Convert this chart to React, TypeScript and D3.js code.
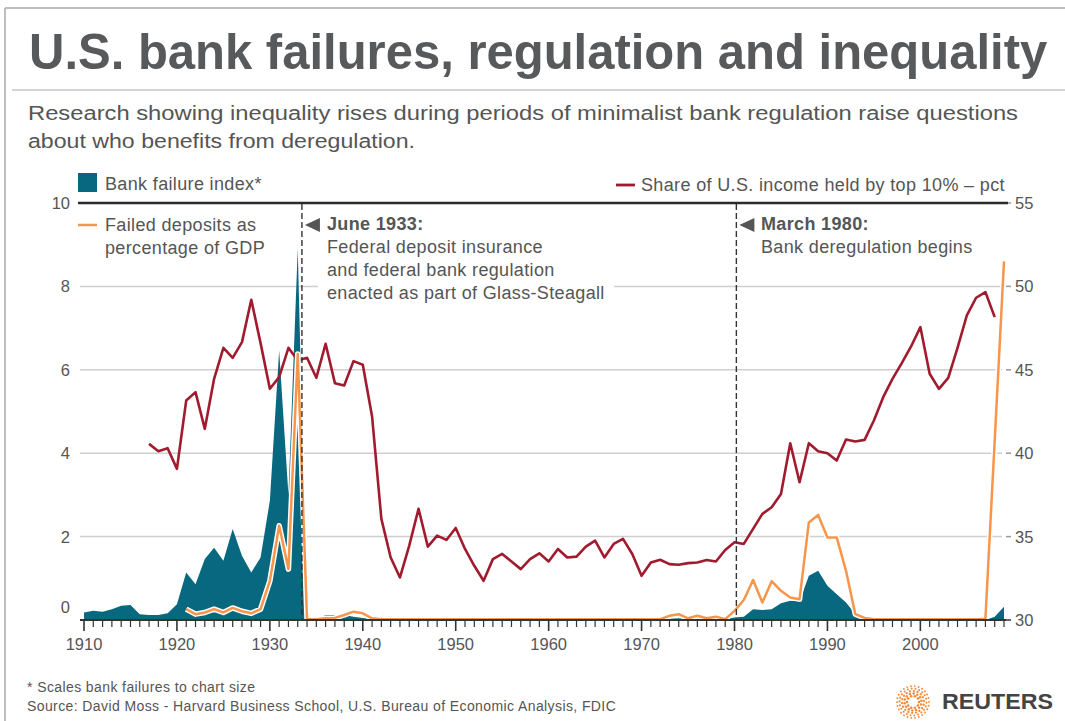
import React, { useLayoutEffect, useRef } from 'react';
import * as d3 from 'd3';

// Bank failure index (scaled to chart), one value per year from 1910
const bankFailureStart = 1910;
const bankFailure = [
  0.18, 0.22, 0.2, 0.26, 0.34, 0.36, 0.14, 0.12, 0.12, 0.16,
  0.38, 1.14, 0.86, 1.46, 1.73, 1.42, 2.18, 1.54, 1.14, 1.5,
  2.86, 6.46, 3.0, 8.9, 0, 0.02, 0.12, 0.12, 0.12, 0.08,
  0.05, 0.02, 0, 0, 0, 0, 0, 0, 0, 0,
  0, 0, 0, 0, 0, 0, 0, 0, 0, 0,
  0, 0, 0, 0, 0, 0, 0, 0, 0, 0,
  0, 0, 0, 0.03, 0.04, 0.02, 0.03, 0.01, 0.01, 0.02,
  0.06, 0.08, 0.26, 0.24, 0.26, 0.4, 0.46, 0.45, 1.06, 1.18,
  0.82, 0.62, 0.42, 0.14, 0, 0, 0, 0, 0, 0,
  0, 0, 0, 0, 0, 0, 0, 0, 0.08, 0.32,
];

// Failed deposits as % of GDP, from 1921
const failedDepositsStart = 1921;
const failedDeposits = [
  0.26, 0.14, 0.18, 0.26, 0.18, 0.29, 0.21, 0.16, 0.26,
  0.94, 2.26, 1.22, 6.38, 0.02, 0.02, 0.04, 0.05, 0.12, 0.2,
  0.16, 0.04, 0.02, 0.02, 0.02, 0.02, 0.02, 0.02, 0.02, 0.02,
  0.02, 0.02, 0.02, 0.02, 0.02, 0.02, 0.02, 0.02, 0.02, 0.02,
  0.02, 0.02, 0.02, 0.02, 0.02, 0.02, 0.02, 0.02, 0.02, 0.02,
  0.02, 0.02, 0.02, 0.1, 0.14, 0.04, 0.1, 0.04, 0.08, 0.02,
  0.22, 0.48, 0.96, 0.42, 0.93, 0.7, 0.54, 0.5, 2.34, 2.52,
  1.98, 1.98, 1.18, 0.14, 0.05, 0.02, 0.02, 0.02, 0.02, 0.02,
  0.02, 0.02, 0.02, 0.02, 0.02, 0.02, 0.02, 0.03, 4.3, 8.6,
];

// Share of U.S. income held by top 10% (pct), from 1917
const topShareStart = 1917;
const topShare = [
  40.56, 40.12, 40.3,
  39.06, 43.16, 43.66, 41.46, 44.46, 46.32, 45.72, 46.66, 49.2, 46.6,
  43.86, 44.56, 46.32, 45.56, 45.72, 44.52, 46.56, 44.2, 44.06, 45.52,
  45.3, 42.2, 36.06, 33.75, 32.55, 34.46, 36.67, 34.4, 35.06, 34.8,
  35.52, 34.26, 33.25, 32.35, 33.65, 33.96, 33.51, 33.05, 33.65, 34.0,
  33.51, 34.26, 33.75, 33.8, 34.4, 34.76, 33.75, 34.56, 34.86, 33.96,
  32.65, 33.45, 33.61, 33.35, 33.31, 33.41, 33.45, 33.6, 33.51, 34.2,
  34.66, 34.56, 35.46, 36.36, 36.76, 37.56, 40.6, 38.26, 40.6, 40.12,
  40.0, 39.56, 40.82, 40.7, 40.8, 41.96, 43.36, 44.46, 45.4, 46.4,
  47.56, 44.76, 43.86, 44.52, 46.32, 48.26, 49.32, 49.66, 48.16,
];

const xDomain = [1910, 2009];
const decadeLabels = [1910, 1920, 1930, 1940, 1950, 1960, 1970, 1980, 1990, 2000];
const leftTicks = [0, 2, 4, 6, 8, 10];
const rightTicks = [30, 35, 40, 45, 50, 55];

const TEAL = '#08687f';
const RED = '#a11b2f';
const ORANGE = '#f7964a';
const GREY = '#555';
const FONT = '"Liberation Sans", Arial, sans-serif';

const W = 1065;
const H = 721;
const TITLE_WIDTH = 1018;

type Pt = { year: number; v: number };
const toPts = (start: number, vals: number[]): Pt[] => vals.map((v, i) => ({ year: start + i, v }));

export default function App() {
  const titleRef = useRef<SVGTextElement>(null);

  // squeeze the title horizontally to the reference width
  useLayoutEffect(() => {
    const el = titleRef.current;
    if (!el) return;
    const natural = el.getComputedTextLength();
    const sx = natural > 0 ? TITLE_WIDTH / natural : 1;
    el.setAttribute('transform', `translate(29,69) scale(${sx},1)`);
  }, []);

  const x = d3.scaleLinear().domain(xDomain).range([84, 1004]);
  const yL = d3.scaleLinear().domain([0, 10]).range([620, 203]);
  const yR = d3.scaleLinear().domain([30, 55]).range([620, 203]);

  const bank = toPts(bankFailureStart, bankFailure);
  const dep = toPts(failedDepositsStart, failedDeposits);
  const share = toPts(topShareStart, topShare);

  const area = d3.area<Pt>().x(d => x(d.year)).y0(yL(0)).y1(d => yL(d.v));
  const lineL = d3.line<Pt>().x(d => x(d.year)).y(d => yL(d.v));
  const lineR = d3.line<Pt>().x(d => x(d.year)).y(d => yR(d.v));

  const allYears = d3.range(xDomain[0], xDomain[1] + 1);
  const x1933 = x(1933.45);
  const x1980 = x(1980.2);

  // Reuters logo dots
  const rings = [
    { r: 6, n: 10, s: 1.3 },
    { r: 8.5, n: 14, s: 1.25 },
    { r: 11, n: 18, s: 1.15 },
    { r: 13.5, n: 22, s: 1.05 },
    { r: 16, n: 26, s: 0.95 },
  ];
  const logoDots: { cx: number; cy: number; r: number }[] = [];
  rings.forEach((ring, k) => {
    for (let i = 0; i < ring.n; i++) {
      const a = (i / ring.n) * Math.PI * 2 + k * 0.3;
      logoDots.push({ cx: 913 + ring.r * Math.cos(a), cy: 702 + ring.r * Math.sin(a), r: ring.s });
    }
  });

  const label = { fontSize: 18, fill: GREY, letterSpacing: 0.35 };

  return (
    <svg width={W} height={H} style={{ position: 'absolute', left: 0, top: 0, background: '#fff' }} fontFamily={FONT}>
      {/* frame */}
      <line x1={5} x2={W} y1={8} y2={8} stroke="#aaa" strokeWidth={1.5} />
      <line x1={5} x2={5} y1={8} y2={H} stroke="#aaa" strokeWidth={1.5} />
      <line x1={12} x2={W} y1={90} y2={90} stroke="#aaa" strokeWidth={1.2} />

      {/* title */}
      <text ref={titleRef} x={0} y={0} transform="translate(29,69) scale(0.85,1)" fontSize={50} fontWeight={700} fill="#58595b">
        U.S. bank failures, regulation and inequality
      </text>
      <text x={28} y={119.5} fontSize={20} fill={GREY} textLength={990} lengthAdjust="spacingAndGlyphs">
        Research showing inequality rises during periods of minimalist bank regulation raise questions
      </text>
      <text x={28} y={148} fontSize={20} fill={GREY} textLength={387} lengthAdjust="spacingAndGlyphs">
        about who benefits from deregulation.
      </text>

      {/* gridlines */}
      {leftTicks.filter(t => t > 0 && t < 10).map(t => (
        <line key={t} x1={80} x2={1002} y1={yL(t)} y2={yL(t)} stroke="#cfcfcf" strokeWidth={1.5} />
      ))}
      {rightTicks.map(t => (
        <line key={t} x1={1006} x2={1011} y1={yR(t)} y2={yR(t)} stroke={t === 30 ? '#333' : '#999'} strokeWidth={1.5} />
      ))}
      <line x1={78} x2={1008} y1={yL(10)} y2={yL(10)} stroke="#2b2b2b" strokeWidth={2.5} />

      {/* annotation background */}
      <rect x={318} y={208} width={296} height={96} fill="#fff" />

      {/* left axis labels */}
      {leftTicks.map(t => (
        <text key={t} x={70} y={t === 0 ? 613 : yL(t) + 6} fontSize={16.5} fill={GREY} textAnchor="end">{t}</text>
      ))}
      {/* right axis labels */}
      {rightTicks.map(t => (
        <text key={t} x={1015} y={yR(t) + 6} fontSize={16.5} fill={GREY}>{t}</text>
      ))}

      {/* data */}
      <path d={area(bank) || ''} fill={TEAL} />
      <path d={lineR(share) || ''} fill="none" stroke={RED} strokeWidth={2.6} strokeLinejoin="round" />
      <path d={lineL(dep) || ''} fill="none" stroke="#fff" strokeWidth={5.5} strokeLinejoin="round" />
      <path d={lineL(dep) || ''} fill="none" stroke={ORANGE} strokeWidth={2.5} strokeLinejoin="round" />

      {/* x axis */}
      <line x1={80} x2={1006} y1={620} y2={620} stroke="#333" strokeWidth={2} />
      {allYears.map(yr => (
        <line key={yr} x1={x(yr)} x2={x(yr)} y1={620} y2={yr % 10 === 0 ? 631 : 627}
          stroke="#333" strokeWidth={yr % 10 === 0 ? 1.6 : 1.2} />
      ))}
      {decadeLabels.map(yr => (
        <text key={yr} x={x(yr)} y={650} fontSize={16.5} fill={GREY} textAnchor="middle">{yr}</text>
      ))}

      {/* event markers */}
      <line x1={x1933} x2={x1933} y1={204} y2={620} stroke="#333" strokeWidth={1.4} strokeDasharray="6,3" />
      <line x1={x1980} x2={x1980} y1={204} y2={620} stroke="#333" strokeWidth={1.4} strokeDasharray="6,3" />
      <path d={`M${x1933 + 3},225 L${x1933 + 18},218 L${x1933 + 18},232 Z`} fill="#555" />
      <path d={`M${x1980 + 3},225 L${x1980 + 18},218 L${x1980 + 18},232 Z`} fill="#555" />
      <g {...label}>
        <text x={327} y={230} fontWeight={700}>June 1933:</text>
        <text x={327} y={253}>Federal deposit insurance</text>
        <text x={327} y={276}>and federal bank regulation</text>
        <text x={327} y={299}>enacted as part of Glass-Steagall</text>
        <text x={761} y={230} fontWeight={700}>March 1980:</text>
        <text x={761} y={253}>Bank deregulation begins</text>
      </g>

      {/* legend */}
      <rect x={78} y={173} width={19} height={19} fill={TEAL} />
      <text x={105} y={190} {...label}>Bank failure index*</text>
      <line x1={78} x2={97} y1={225} y2={225} stroke={ORANGE} strokeWidth={2.5} />
      <text x={105} y={231} {...label}>Failed deposits as</text>
      <text x={105} y={254} {...label}>percentage of GDP</text>
      <line x1={616} x2={635} y1={185} y2={185} stroke={RED} strokeWidth={2.8} />
      <text x={641} y={191} {...label}>Share of U.S. income held by top 10% – pct</text>

      {/* footer */}
      <text x={27} y={692} fontSize={14} letterSpacing={0.4} fill={GREY}>* Scales bank failures to chart size</text>
      <text x={27} y={711} fontSize={14} letterSpacing={0.4} fill={GREY}>Source: David Moss - Harvard Business School, U.S. Bureau of Economic Analysis, FDIC</text>

      {/* Reuters logo */}
      {logoDots.map((d, i) => (
        <circle key={i} cx={d.cx} cy={d.cy} r={d.r} fill="#f58a3a" />
      ))}
      <text x={942} y={709} fontSize={22} fontWeight={700} fill="#444" textLength={111} lengthAdjust="spacingAndGlyphs">REUTERS</text>
    </svg>
  );
}
